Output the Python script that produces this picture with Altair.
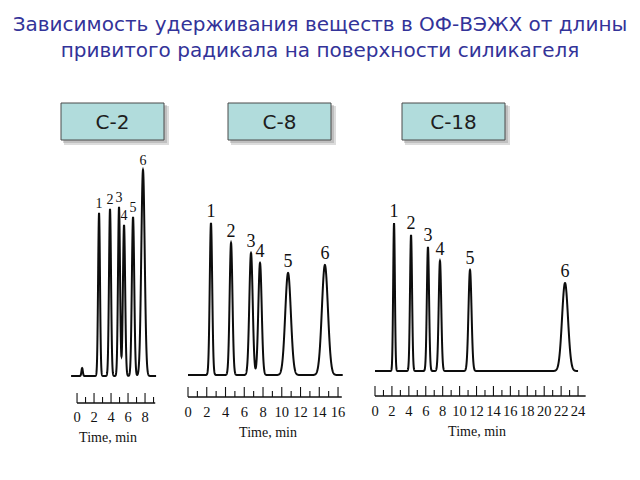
import numpy as np
import pandas as pd
import altair as alt

# ---------------- data ----------------
TITLE = ["Зависимость удерживания веществ в ОФ-ВЭЖХ от длины",
         "привитого радикала на поверхности силикагеля"]

column_names = ["C-2", "C-8", "C-18"]
peak_labels = ["1", "2", "3", "4", "5", "6"]

# retention time (min), peak height (detector units), peak width sigma (min)
c2_times = [2.59, 3.88, 4.94, 5.53, 6.59, 7.76]
c2_heights = [163, 167, 169, 151, 159, 206]
c2_sigmas = [0.11, 0.12, 0.12, 0.13, 0.14, 0.20]
c2_extra_times = [0.6]          # small unretained bump
c2_extra_heights = [8]
c2_extra_sigmas = [0.08]

c8_times = [2.45, 4.59, 6.72, 7.68, 10.67, 14.6]
c8_heights = [152, 132, 122, 112, 102, 110]
c8_sigmas = [0.13, 0.15, 0.18, 0.18, 0.30, 0.32]

c18_times = [2.25, 4.26, 6.26, 7.68, 11.23, 22.46]
c18_heights = [148, 136, 124, 110, 101, 88]
c18_sigmas = [0.10, 0.12, 0.13, 0.15, 0.18, 0.35]

# recorded time span of each trace (min)
c2_span = [-0.7, 9.3]
c8_span = [0.0, 16.5]
c18_span = [0.0, 24.0]

# time axes: tick every minute, labels every 2 minutes
c2_ticks = list(range(0, 10))
c8_ticks = list(range(0, 17))
c18_ticks = list(range(0, 25))
c2_axis_end = 9.2
c8_axis_end = 16.4
c18_axis_end = 24.9

AXIS_TITLE = "Time, min"


def trace(times, heights, sigmas, span):
    t = np.arange(span[0], span[1] + 1e-9, 0.01)
    s = np.zeros_like(t)
    for mu, h, sg in zip(times, heights, sigmas):
        s += h * np.exp(-0.5 * ((t - mu) / sg) ** 2)
    return pd.DataFrame({"t": t, "s": s})


def panel(name, times, heights, sigmas, span, ticks, axis_end,
          xdom, ydom, width, box_x, axis_y, lab_y, ttl_x, ttl_y,
          peak_fs, extra=None, spacer=False):
    H = 250
    xs = alt.Scale(domain=xdom, nice=False, zero=False)
    ys = alt.Scale(domain=ydom, nice=False, zero=False)
    if extra:
        all_t = times + extra[0]
        all_h = heights + extra[1]
        all_s = sigmas + extra[2]
    else:
        all_t, all_h, all_s = times, heights, sigmas
    df = trace(all_t, all_h, all_s, span)

    one = pd.DataFrame({"name": [name]})
    bx0, bx1 = box_x
    by0, by1 = -47, -10

    layers = []
    if spacer:
        # white backdrop spanning the slide width (fixes horizontal layout)
        layers.append(alt.Chart(one).mark_rect(color="white").encode(
            x=alt.value(-71), x2=alt.value(569),
            y=alt.value(-30), y2=alt.value(320)))

    shadow1 = alt.Chart(one).mark_rect(color="#9a9a9a", opacity=0.35).encode(
        x=alt.value(bx0 + 3), x2=alt.value(bx1 + 5),
        y=alt.value(by0 + 3), y2=alt.value(by1 + 5))
    shadow2 = alt.Chart(one).mark_rect(color="#8a8a8a", opacity=0.35).encode(
        x=alt.value(bx0 + 2), x2=alt.value(bx1 + 3),
        y=alt.value(by0 + 2), y2=alt.value(by1 + 3))
    box = alt.Chart(one).mark_rect(fill="#b1dcdc", stroke="#4a4a4a",
                                   strokeWidth=1).encode(
        x=alt.value(bx0), x2=alt.value(bx1),
        y=alt.value(by0), y2=alt.value(by1))
    box_text = alt.Chart(one).mark_text(
        font="DejaVu Sans", fontSize=20, color="#1e1e1e",
        baseline="middle", align="center").encode(
        x=alt.value((bx0 + bx1) / 2), y=alt.value((by0 + by1) / 2 + 1),
        text="name:N")

    line = alt.Chart(df).mark_line(color="#0d0d0d", strokeWidth=2.0,
                                   interpolate="linear").encode(
        x=alt.X("t:Q", scale=xs, axis=None),
        y=alt.Y("s:Q", scale=ys, axis=None))

    pk = pd.DataFrame({"t": times, "h": heights, "lab": peak_labels})
    peak_text = alt.Chart(pk).mark_text(
        font="Liberation Serif", fontSize=peak_fs, color="#111111",
        baseline="bottom", dy=-2).encode(
        x=alt.X("t:Q", scale=xs), y=alt.Y("h:Q", scale=ys), text="lab:N")

    ax = pd.DataFrame({"a": [0.0], "b": [axis_end]})
    axis_line = alt.Chart(ax).mark_rule(color="#111111", strokeWidth=1.4).encode(
        x=alt.X("a:Q", scale=xs), x2="b:Q", y=alt.value(axis_y))

    tk = pd.DataFrame({"v": ticks})
    tk["major"] = tk["v"] % 2 == 0
    major = alt.Chart(tk[tk["major"]]).mark_rule(color="#111111",
                                                 strokeWidth=1.1).encode(
        x=alt.X("v:Q", scale=xs), y=alt.value(axis_y),
        y2=alt.value(axis_y - 10))
    minor = alt.Chart(tk[~tk["major"]]).mark_rule(color="#111111",
                                                  strokeWidth=1.1).encode(
        x=alt.X("v:Q", scale=xs), y=alt.value(axis_y),
        y2=alt.value(axis_y - 6))
    tick_lab = alt.Chart(tk[tk["major"]]).mark_text(
        font="Liberation Serif", fontSize=14.5, color="#111111",
        baseline="middle").encode(
        x=alt.X("v:Q", scale=xs), y=alt.value(lab_y), text="v:Q")
    ttl = alt.Chart(pd.DataFrame({"txt": [AXIS_TITLE]})).mark_text(
        font="Liberation Serif", fontSize=14, color="#111111",
        baseline="middle").encode(
        x=alt.value(ttl_x), y=alt.value(ttl_y), text="txt:N")

    layers += [shadow1, shadow2, box, box_text, line, peak_text,
               axis_line, major, minor, tick_lab, ttl]
    return alt.layer(*layers).properties(width=width, height=H)


p1 = panel(column_names[0], c2_times, c2_heights, c2_sigmas, c2_span,
           c2_ticks, c2_axis_end, [-0.71, 9.29], [-24, 226], 85,
           (-10, 93), 253, 268, 37, 288, 14,
           extra=(c2_extra_times, c2_extra_heights, c2_extra_sigmas),
           spacer=True)
p2 = panel(column_names[1], c8_times, c8_heights, c8_sigmas, c8_span,
           c8_ticks, c8_axis_end, [0, 16.53], [-25, 225], 155,
           (40, 143), 247, 263, 80, 283, 18)
p3 = panel(column_names[2], c18_times, c18_heights, c18_sigmas, c18_span,
           c18_ticks, c18_axis_end, [0, 24.94], [-29, 221], 211,
           (27, 130), 246, 262, 102, 282, 18)

chart = alt.hconcat(p1, p2, p3, spacing=32, bounds="flush").properties(
    title=alt.TitleParams(TITLE, font="DejaVu Sans", fontSize=20,
                          fontWeight="normal", color="#333399",
                          anchor="middle", lineHeight=26, offset=42),
    padding={"left": 0, "top": 14, "right": 0, "bottom": 10},
    background="white",
).configure_view(stroke=None)

chart.save("out.html", embed_options={"renderer": "svg", "actions": False})
